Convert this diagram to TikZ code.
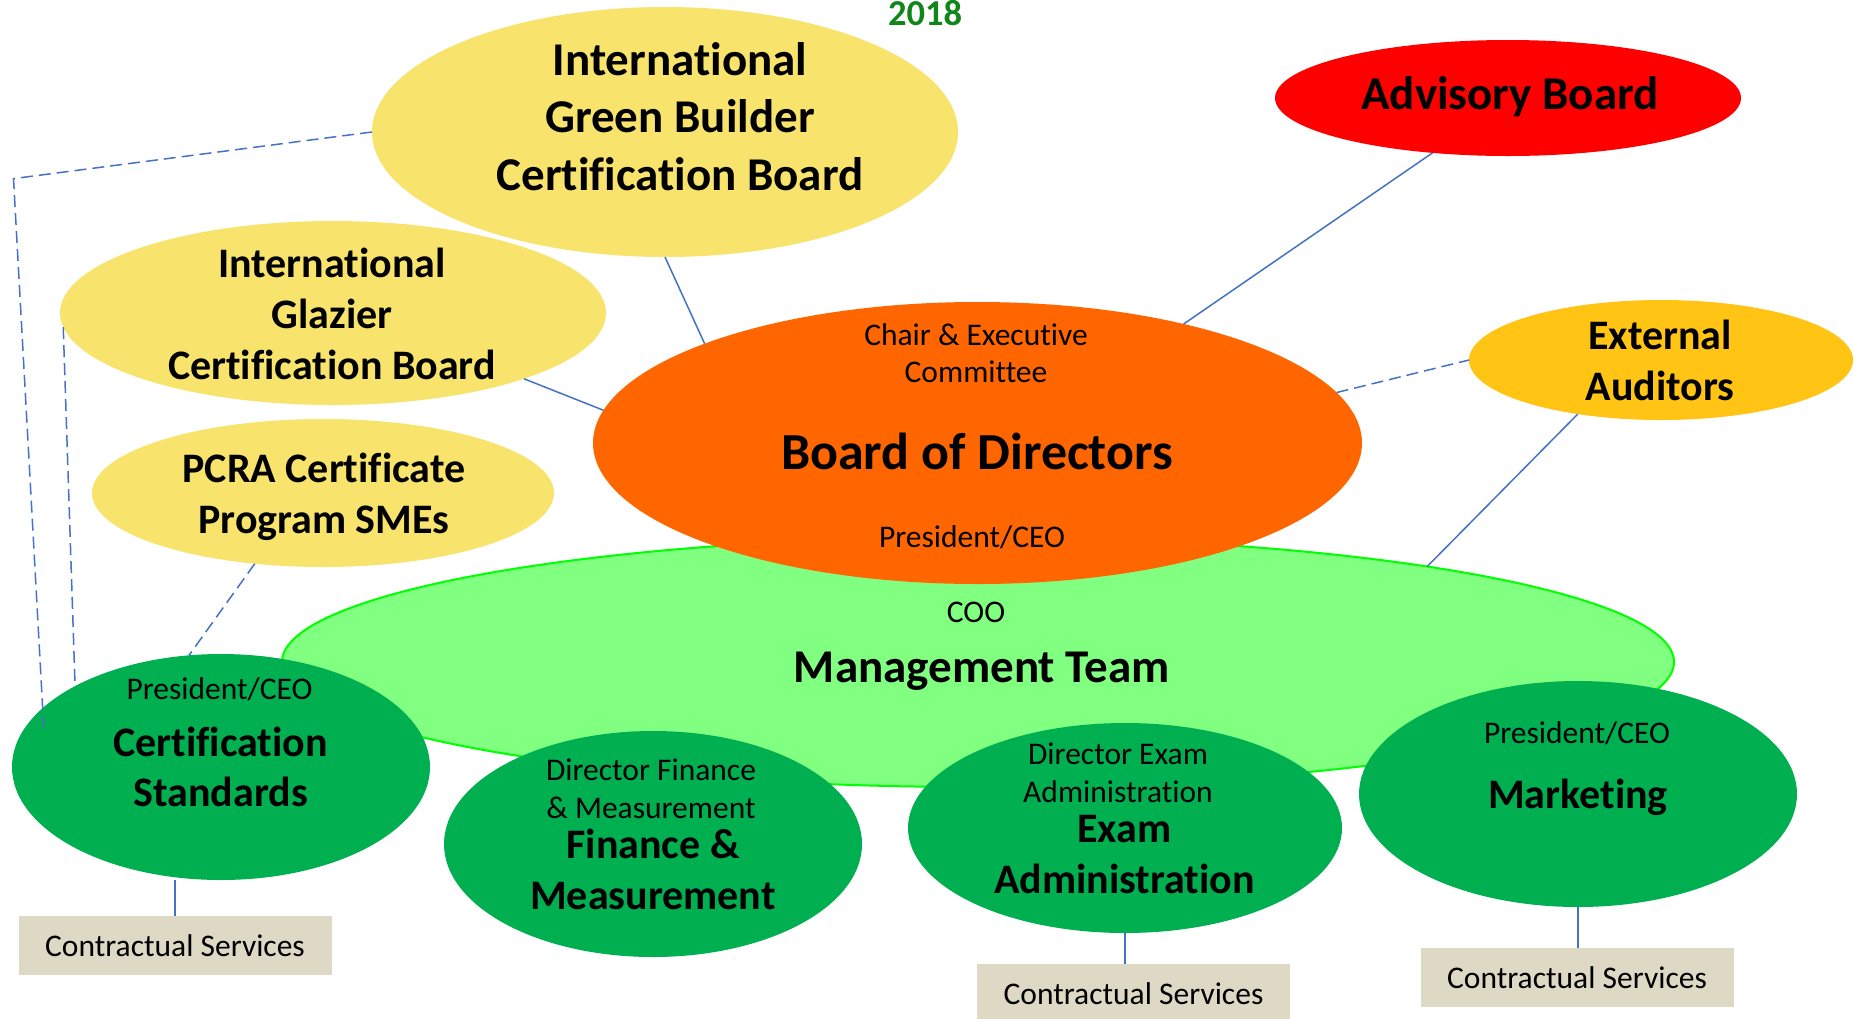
\documentclass[tikz,border=0pt]{standalone}
\usepackage{fontspec}
\setmainfont{Carlito}[Ligatures={NoCommon}]
\usetikzlibrary{shapes.geometric}
\definecolor{ylw}{HTML}{F8E46C}
\definecolor{advred}{HTML}{FF0000}
\definecolor{goldfill}{HTML}{FFC414}
\definecolor{orng}{HTML}{FF6600}
\definecolor{ltgrn}{HTML}{80FF80}
\definecolor{limeedge}{HTML}{00FF00}
\definecolor{dkgrn}{HTML}{00AF50}
\definecolor{boxtan}{HTML}{DDD9C4}
\definecolor{linkblue}{HTML}{4472C4}
\definecolor{yeargreen}{HTML}{10861A}
\newcommand{\myfs}[2]{\fontsize{#1}{#2}\selectfont}
\begin{document}
\begin{tikzpicture}[x=1pt,y=-1pt,
  oval/.style={ellipse, inner sep=0pt, outer sep=0pt},
  lbl/.style={anchor=base, align=center, inner sep=0pt, text=black},
  conn/.style={draw=linkblue, line width=1.5pt},
  dconn/.style={conn, dash pattern=on 12pt off 6pt},
  cbox/.style={rectangle, fill=boxtan, inner sep=0pt, minimum width=313pt, minimum height=59pt, font=\myfs{31.5}{38}}
]
\fill[white] (0,0) rectangle (1854,1018);
\useasboundingbox (0,0) rectangle (1854,1018);

% year
\node[lbl, text=yeargreen, font=\bfseries\myfs{36.5}{44}] (yr) at (925,25) {2018};

% management team (behind board)
\node[oval, fill=ltgrn, draw=limeedge, line width=2pt, minimum width=1392pt, minimum height=250pt] (mt) at (978,662) {};
% board of directors
\node[oval, fill=orng, minimum width=769pt, minimum height=282pt] (bd) at (977.5,443) {};

% yellow boards
\node[oval, fill=ylw, minimum width=586pt, minimum height=250pt] (igbcb) at (665,132) {};
\node[oval, fill=ylw, minimum width=546pt, minimum height=184pt] (gl) at (333,313) {};
\node[oval, fill=ylw, minimum width=462pt, minimum height=148pt] (pcra) at (323,493) {};
\node[oval, fill=advred, minimum width=466pt, minimum height=116pt] (adv) at (1508,98) {};
\node[oval, fill=goldfill, minimum width=384pt, minimum height=120pt] (ext) at (1661,360) {};

% departments
\node[oval, fill=dkgrn, minimum width=418pt, minimum height=226pt] (cs) at (221,767) {};
\node[oval, fill=dkgrn, minimum width=418pt, minimum height=226pt] (fm) at (653,844) {};
\node[oval, fill=dkgrn, minimum width=434pt, minimum height=210pt] (ex) at (1125,828) {};
\node[oval, fill=dkgrn, minimum width=438pt, minimum height=226pt] (mk) at (1578,794) {};

% contractual services
\node[cbox] (box1) at (175,945.5) {Contractual Services};
\node[cbox, minimum height=60pt] (box2) at (1133.5,994) {Contractual Services};
\node[cbox] (box3) at (1577,977.5) {Contractual Services};

% labels (base = baseline of the last line)
\node[lbl, font=\bfseries\myfs{47}{57.5}] (igbcbT) at (680,190) {International\\Green Builder\\Certification Board};
\node[lbl, font=\bfseries\myfs{47}{57.5}] (advT) at (1510,109) {Advisory Board};
\node[lbl, font=\bfseries\myfs{42}{51}] (glT) at (332,379) {International\\Glazier\\Certification Board};
\node[lbl, font=\bfseries\myfs{42}{51}] (pcraT) at (324,533.5) {PCRA Certificate\\Program SMEs};
\node[lbl, font=\bfseries\myfs{42}{50.5}] (extT) at (1660,400) {External\\Auditors};

\node[lbl, font=\myfs{31.5}{37.5}] (bdT1) at (976,382.5) {Chair \& Executive\\Committee};
\node[lbl, font=\bfseries\myfs{52}{62}] (bdT2) at (977,469) {Board of Directors};
\node[lbl, font=\myfs{31.5}{37.5}] (bdT3) at (972,547) {President/CEO};

\node[lbl, font=\myfs{31.5}{37.5}] (mtT1) at (976,622) {COO};
\node[lbl, font=\bfseries\myfs{47}{57.5}] (mtT2) at (982,682) {Management Team};

\node[lbl, font=\myfs{31.5}{37.5}] (csT1) at (219.5,699.5) {President/CEO};
\node[lbl, font=\bfseries\myfs{42}{50}] (csT2) at (220.5,806.5) {Certification\\Standards};

\node[lbl, font=\myfs{31.5}{38}] (fmT1) at (651,818) {Director Finance\\\& Measurement};
\node[lbl, font=\bfseries\myfs{42}{51.7}] (fmT2) at (653,909.7) {Finance \&\\Measurement};

\node[lbl, font=\myfs{31.5}{38}] (exT1) at (1118,802) {Director Exam\\Administration};
\node[lbl, font=\bfseries\myfs{42}{51.7}] (exT2) at (1124.5,893.7) {Exam\\Administration};

\node[lbl, font=\myfs{31.5}{37.5}] (mkT1) at (1577,743) {President/CEO};
\node[lbl, font=\bfseries\myfs{42}{51}] (mkT2) at (1578,808) {Marketing};

% connectors
\draw[conn] (igbcb.south) -- (bd.160.6);
\draw[conn] (gl.341.3) -- (bd.175.9);
\draw[conn] (adv.216.9) -- (bd.30.1);
\draw[conn] (ext.213) -- (mt.12.2);
\draw[dconn] (bd.8.3) -- (ext.west);
\draw[dconn] (pcra.226.6) -- (cs.106.4);
\coordinate (k1) at (13.5,178.6);
\coordinate (k2) at (44,732);
\draw[dconn] (igbcb.west) -- (k1) -- (k2);
\draw[dconn] (gl.183) -- (cs.151.5);
\draw[conn] (box1.north) -- (box1.north |- cs.south);
\draw[conn] (ex.south) -- (ex.south |- box2.north);
\draw[conn] (mk.south) -- (mk.south |- box3.north);
\end{tikzpicture}
\end{document}
